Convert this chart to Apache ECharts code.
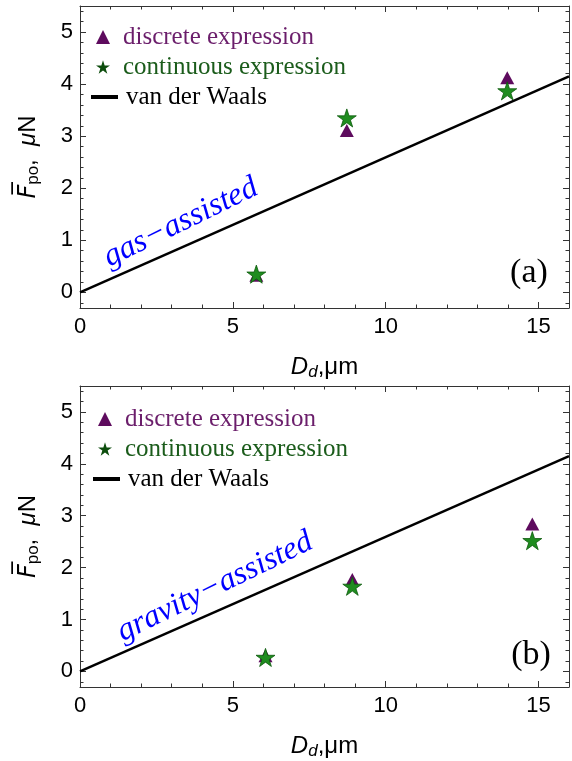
<!DOCTYPE html>
<html>
<head>
<meta charset="utf-8">
<script src="https://cdn.jsdelivr.net/npm/echarts@6/dist/echarts.min.js"></script>
<style>
  html, body { margin: 0; padding: 0; background: #fff; }
  #chart { width: 572px; height: 761px; }
</style>
</head>
<body>
<div id="chart"></div>
<script>
  // panel (a): gas-assisted
  const dA = [5.77, 8.73, 13.98];
  const discreteA = [0.33, 3.11, 4.12];
  const continuousA = [0.35, 3.35, 3.87];
  // panel (b): gravity-assisted
  const dB = [6.07, 8.91, 14.8];
  const discreteB = [0.30, 1.77, 2.84];
  const continuousB = [0.27, 1.64, 2.52];
  // van der Waals line (same in both panels)
  const vdwX = [0, 16];
  const vdwY = [0, 4.15];

  // ticks
  const xMajor = [0, 5, 10, 15];
  const xMinor = [1, 2, 3, 4, 6, 7, 8, 9, 11, 12, 13, 14, 16];
  const yMajor = [0, 1, 2, 3, 4, 5];
  const yMinor = [-0.2, 0.2, 0.4, 0.6, 0.8, 1.2, 1.4, 1.6, 1.8, 2.2, 2.4, 2.6, 2.8,
                  3.2, 3.4, 3.6, 3.8, 4.2, 4.4, 4.6, 4.8, 5.2, 5.4];

  const sans = 'Liberation Sans, Arial, sans-serif';
  const serif = 'Liberation Serif, Times New Roman, serif';
  const frame = '#333';
  const purple = '#5e0b5e';
  const purpleText = '#6b1e6b';
  const green = '#1f8c1f';
  const greenText = '#1b5c1b';
  const star = 'path://M50,0 L61.17,34.63 L97.55,34.55 L68.07,55.87 L79.39,90.45 L50,69 L20.61,90.45 L31.93,55.87 L2.45,34.55 L38.83,34.63 Z';

  const grids = [
    { left: 80, top: 6, width: 489, height: 302 },
    { left: 80, top: 386, width: 489, height: 302 }
  ];

  function tick(len, vals) {
    return { inside: true, length: len, customValues: vals, lineStyle: { color: frame, width: 1 } };
  }

  function xAxes(g) {
    const base = { type: 'value', gridIndex: g, min: 0, max: 16, splitLine: { show: false } };
    const line = { onZero: false, lineStyle: { color: frame, width: 1 } };
    return [
      {
        ...base, position: 'bottom', axisLine: line, axisTick: tick(6, xMajor),
        axisLabel: { customValues: xMajor, margin: 8, color: '#000', fontSize: 22, fontFamily: sans },
        name: '{i|D}{s|d}{n|,μm}', nameLocation: 'middle', nameGap: 46,
        nameTextStyle: {
          rich: {
            i: { fontSize: 24, fontStyle: 'italic', fontFamily: sans, color: '#000' },
            s: { fontSize: 17, fontStyle: 'italic', fontFamily: sans, color: '#000', padding: [10, 0, 0, 0] },
            n: { fontSize: 24, fontFamily: sans, color: '#000' }
          }
        }
      },
      { ...base, position: 'bottom', axisLine: { show: false, onZero: false }, axisTick: tick(3.5, xMinor), axisLabel: { show: false } },
      { ...base, position: 'top', axisLine: line, axisTick: tick(6, xMajor), axisLabel: { show: false } },
      { ...base, position: 'top', axisLine: { show: false, onZero: false }, axisTick: tick(3.5, xMinor), axisLabel: { show: false } }
    ];
  }

  function yAxes(g) {
    const base = { type: 'value', gridIndex: g, min: -0.3, max: 5.5, splitLine: { show: false } };
    const line = { onZero: false, lineStyle: { color: frame, width: 1 } };
    return [
      {
        ...base, position: 'left', axisLine: line, axisTick: tick(6, yMajor),
        axisLabel: { customValues: yMajor, margin: 7, color: '#000', fontSize: 22, fontFamily: sans },
        name: '{f|F\u0305}{s|po}{n|,  }{m|μ}{n|N}', nameLocation: 'middle', nameGap: 38,
        nameTextStyle: {
          rich: {
            f: { fontSize: 24, fontStyle: 'italic', fontFamily: 'DejaVu Sans', color: '#000' },
            s: { fontSize: 17, fontFamily: 'Liberation Sans', color: '#000', padding: [10, 0, 0, 0] },
            n: { fontSize: 24, fontFamily: sans, color: '#000' },
            m: { fontSize: 24, fontStyle: 'italic', fontFamily: sans, color: '#000' }
          }
        }
      },
      { ...base, position: 'left', axisLine: { show: false, onZero: false }, axisTick: tick(3.5, yMinor), axisLabel: { show: false } },
      { ...base, position: 'right', axisLine: line, axisTick: tick(6, yMajor), axisLabel: { show: false } },
      { ...base, position: 'right', axisLine: { show: false, onZero: false }, axisTick: tick(3.5, yMinor), axisLabel: { show: false } }
    ];
  }

  function panelSeries(g, xs, disc, cont, note, notePos, tag, tagPos) {
    const ax = { xAxisIndex: g * 4, yAxisIndex: g * 4 };
    const hidden = { color: 'rgba(0,0,0,0)', opacity: 1 };
    return [
      {
        ...ax, name: 'van der Waals', type: 'line', showSymbol: false, z: 2,
        data: vdwX.map((x, i) => [x, vdwY[i]]),
        lineStyle: { color: '#000', width: 2.5 }
      },
      {
        ...ax, name: 'discrete expression', type: 'scatter', symbol: 'triangle', symbolSize: [14, 13], z: 3,
        data: xs.map((x, i) => [x, disc[i]]),
        itemStyle: { color: purple, opacity: 1 }
      },
      {
        ...ax, name: 'continuous expression', type: 'scatter', symbol: star, symbolSize: 19,
        symbolKeepAspect: true, z: 4,
        data: xs.map((x, i) => [x, cont[i]]),
        itemStyle: { color: green, borderColor: '#0d5a0d', borderWidth: 0.8, opacity: 1 }
      },
      {
        ...ax, type: 'scatter', silent: true, symbolSize: 1, itemStyle: hidden, z: 5,
        data: [notePos],
        label: {
          show: true, position: 'inside', formatter: note, rotate: 26,
          color: '#0000ff', fontSize: 32, fontStyle: 'italic', fontFamily: serif
        }
      },
      {
        ...ax, type: 'scatter', silent: true, symbolSize: 1, itemStyle: hidden, z: 5,
        data: [tagPos],
        label: { show: true, position: 'inside', formatter: tag, color: '#000', fontSize: 34, fontFamily: serif }
      }
    ];
  }

  function legends(left, top) {
    const ts = { fontFamily: serif, fontSize: 25, lineHeight: 26 };
    return [
      {
        left: left, top: top, orient: 'vertical', padding: 0, itemGap: 4,
        itemWidth: 14, itemHeight: 14, selectedMode: false, textStyle: ts,
        data: [
          { name: 'discrete expression', textStyle: { color: purpleText, padding: [0, 0, 0, 8] }, itemStyle: { color: purple } },
          { name: 'continuous expression', icon: star, textStyle: { color: greenText, padding: [0, 0, 0, 8] }, itemStyle: { color: '#0d4d0d', borderWidth: 0 } }
        ]
      },
      {
        left: left - 5, top: top + 60, orient: 'vertical', padding: 0,
        itemWidth: 27, itemHeight: 4, selectedMode: false, textStyle: ts,
        data: [{ name: 'van der Waals', icon: 'rect', textStyle: { color: '#000', padding: [0, 0, 0, 3] }, itemStyle: { color: '#000' } }]
      }
    ];
  }

  const chart = echarts.init(document.getElementById('chart'));
  chart.setOption({
    animation: false,
    grid: grids,
    xAxis: [...xAxes(0), ...xAxes(1)],
    yAxis: [...yAxes(0), ...yAxes(1)],
    legend: [...legends(96, 24), ...legends(98, 406)],
    series: [
      ...panelSeries(0, dA, discreteA, continuousA, 'gas\u2212assisted', [3.3, 1.34], '(a)', [14.69, 0.38]),
      ...panelSeries(1, dB, discreteB, continuousB, 'gravity\u2212assisted', [4.42, 1.63], '(b)', [14.76, 0.31])
    ]
  });
</script>
</body>
</html>
